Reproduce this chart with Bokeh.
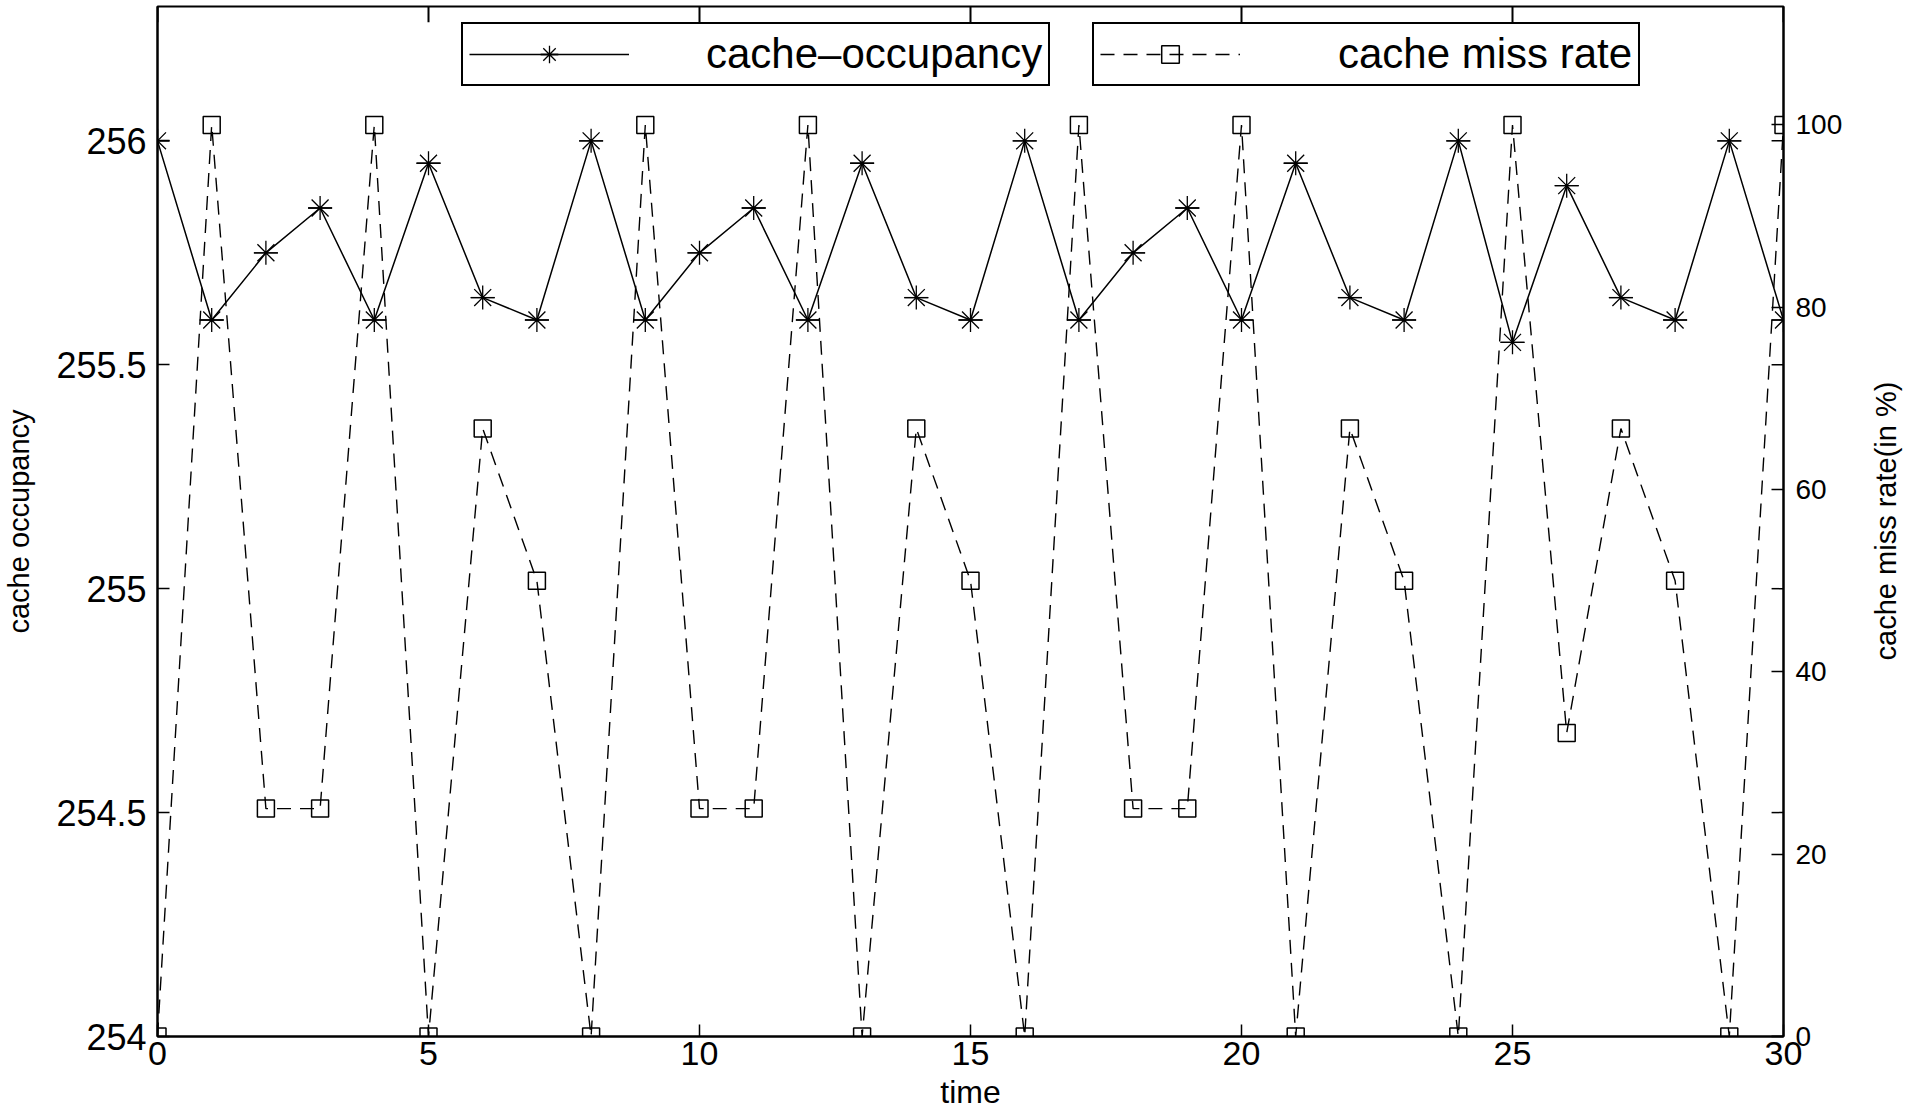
import math
from bokeh.plotting import figure
from bokeh.models import (Range1d, LinearAxis, Legend, LegendItem, FixedTicker,
                          NumeralTickFormatter, ColumnDataSource, Label)
from bokeh.embed import file_html
from bokeh.resources import INLINE

# ---- data ----
time = list(range(31))
occupancy = [256.0, 255.6, 255.75, 255.85, 255.6, 255.95, 255.65, 255.6,
             256.0, 255.6, 255.75, 255.85, 255.6, 255.95, 255.65, 255.6,
             256.0, 255.6, 255.75, 255.85, 255.6, 255.95, 255.65, 255.6,
             256.0, 255.55, 255.9, 255.65, 255.6, 256.0, 255.6]
miss_rate = [0, 100, 25, 25, 100, 0, 66.7, 50,
             0, 100, 25, 25, 100, 0, 66.7, 50,
             0, 100, 25, 25, 100, 0, 66.7, 50,
             0, 100, 33.3, 66.7, 50, 0, 100]
x_ticks = [0, 5, 10, 15, 20, 25, 30]
left_ticks = [254, 254.5, 255, 255.5, 256]
right_ticks = [0, 20, 40, 60, 80, 100]
series_labels = ["cache\u2013occupancy", "cache miss rate"]
x_label = "time"
left_label = "cache occupancy"
right_label = "cache miss rate(in %)"

FONT = "Liberation Sans"
W, H = 1925, 1112
BORDER_TOP, BORDER_BOTTOM = 6, 75

src = ColumnDataSource(dict(t=time, occ=occupancy, miss=miss_rate))

p = figure(width=W, height=H, output_backend="svg", toolbar_location=None,
           x_range=Range1d(0, 30), y_range=Range1d(254, 256.3),
           min_border_left=156, min_border_right=142, min_border_top=BORDER_TOP,
           min_border_bottom=BORDER_BOTTOM, background_fill_color="white",
           border_fill_color="white")
p.extra_y_ranges = {"miss": Range1d(0, 113)}
p.grid.visible = False
p.outline_line_color = "black"
p.outline_line_width = 2

def style_axis(ax, size):
    ax.axis_line_color = "black"
    ax.axis_line_width = 2
    ax.major_tick_line_color = "black"
    ax.major_tick_line_width = 1.5
    ax.major_tick_in = 12
    ax.major_tick_out = 0
    ax.minor_tick_line_color = None
    ax.major_label_text_font = FONT
    ax.major_label_text_font_size = size
    ax.major_label_text_color = "black"
    ax.axis_label_text_font = FONT
    ax.axis_label_text_font_style = "normal"
    ax.axis_label_text_color = "black"

# bottom axis
xa = p.xaxis[0]
style_axis(xa, "34px")
xa.ticker = FixedTicker(ticks=x_ticks)
xa.axis_label = x_label
xa.axis_label_text_font_size = "32px"
xa.major_label_standoff = 5
xa.axis_label_standoff = 6

# left axis
ya = p.yaxis[0]
style_axis(ya, "36px")
ya.ticker = FixedTicker(ticks=left_ticks)
ya.formatter = NumeralTickFormatter(format="0.[0]")
ya.axis_label = left_label
ya.axis_label_text_font_size = "29px"
ya.major_label_standoff = 11
ya.axis_label_standoff = 18

# right axis (miss rate)
ra = LinearAxis(y_range_name="miss", ticker=FixedTicker(ticks=right_ticks))
style_axis(ra, "28px")
ra.major_label_standoff = 12
p.add_layout(ra, "right")

# right axis title, reading bottom-to-top, in the right side panel
frame_h = H - BORDER_TOP - BORDER_BOTTOM
p.add_layout(Label(x=40, y=frame_h / 2, x_units="screen", y_units="screen",
                   text=right_label, angle=math.pi / 2,
                   text_align="center", text_baseline="middle",
                   text_font=FONT, text_font_size="29px", text_color="black"),
             "right")

# mirrored ticks: left-axis ticks on the right edge, x ticks on the top edge
x_end = p.x_range.end
y_end = p.y_range.end
p.segment(x0=[x_end] * len(left_ticks), y0=left_ticks,
          x1=[x_end - 0.22] * len(left_ticks), y1=left_ticks,
          line_color="black", line_width=1.5)
p.segment(x0=x_ticks, y0=[y_end] * len(x_ticks),
          x1=x_ticks, y1=[y_end - 0.035] * len(x_ticks),
          line_color="black", line_width=2)

# series
occ_line = p.line("t", "occ", source=src, line_color="black", line_width=1.5)
occ_star = p.scatter("t", "occ", source=src, marker="asterisk", size=24,
                     line_color="black", line_width=1.3)
occ_dash = p.scatter("t", "occ", source=src, marker="dash", size=24,
                     line_color="black", line_width=1.3)

miss_line = p.line("t", "miss", source=src, y_range_name="miss",
                   line_color="black", line_width=1.4, line_dash="14 9")
miss_sq = p.scatter("t", "miss", source=src, y_range_name="miss", marker="square",
                    size=17, fill_color=None, line_color="black", line_width=1.5)

def make_legend(label, renderers, loc, glyph_w, standoff):
    return Legend(items=[LegendItem(label=label, renderers=renderers)],
                  location=loc, orientation="vertical",
                  border_line_color="black", border_line_width=2,
                  border_line_alpha=1.0,
                  background_fill_color="white", background_fill_alpha=1,
                  label_text_font=FONT, label_text_font_size="42px",
                  label_text_color="black",
                  glyph_width=glyph_w, glyph_height=44, label_standoff=standoff,
                  padding=6, margin=0, spacing=0)

leg1 = make_legend(series_labels[0], [occ_line, occ_star, occ_dash], (304, 950), 160, 77)
leg2 = make_legend(series_labels[1], [miss_line, miss_sq], (935, 950), 140, 98)
p.add_layout(leg1)
p.add_layout(leg2)

open("out.html", "w").write(file_html(p, INLINE))
